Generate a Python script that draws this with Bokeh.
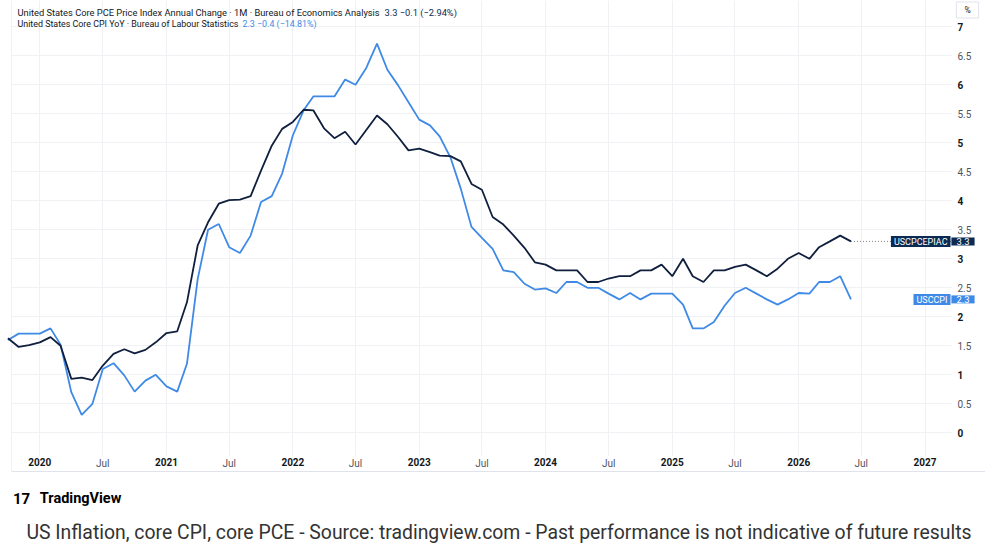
import datetime as dt
import pandas as pd
from bokeh.plotting import figure
from bokeh.models import (Range1d, FixedTicker, Label, ColumnDataSource,
                          DatetimeAxis, LinearAxis)
from bokeh.embed import file_html
from bokeh.resources import INLINE

# ---- data ----
start_month = "2019-10-01"
pce = [1.63, 1.48, 1.51,
       1.56, 1.65, 1.50, 0.93, 0.95, 0.91, 1.16, 1.36, 1.44, 1.37, 1.43, 1.56,
       1.72, 1.75, 2.25, 3.23, 3.63, 3.95, 4.01, 4.02, 4.08, 4.52, 4.95, 5.24,
       5.36, 5.57, 5.56, 5.25, 5.08, 5.19, 4.97, 5.22, 5.47, 5.32, 5.10, 4.87,
       4.90, 4.84, 4.78, 4.77, 4.68, 4.29, 4.19, 3.72, 3.59, 3.40, 3.19, 2.94,
       2.90, 2.80, 2.80, 2.80, 2.60, 2.60, 2.66, 2.70, 2.70, 2.80, 2.80, 2.90,
       2.70, 3.00, 2.70, 2.60, 2.80, 2.80, 2.86, 2.90, 2.80, 2.70, 2.83, 3.00,
       3.10, 3.00, 3.20, 3.30, 3.40, 3.30]
cpi = [1.60, 1.71, 1.71,
       1.71, 1.80, 1.52, 0.70, 0.31, 0.50, 1.10, 1.20, 0.99, 0.71, 0.90, 1.00,
       0.80, 0.71, 1.19, 2.65, 3.50, 3.60, 3.20, 3.10, 3.40, 3.98, 4.08, 4.47,
       5.13, 5.56, 5.80, 5.80, 5.80, 6.09, 6.00, 6.29, 6.71, 6.26, 5.99, 5.70,
       5.40, 5.30, 5.11, 4.75, 4.21, 3.55, 3.36, 3.17, 2.80, 2.77, 2.57, 2.47,
       2.49, 2.41, 2.60, 2.60, 2.50, 2.50, 2.40, 2.30, 2.41, 2.30, 2.40, 2.40,
       2.40, 2.21, 1.80, 1.80, 1.91, 2.19, 2.41, 2.50, 2.40, 2.30, 2.21, 2.30,
       2.41, 2.40, 2.60, 2.60, 2.70, 2.30]
tick_years = [2020, 2021, 2022, 2023, 2024, 2025, 2026, 2027]
y_major = [0, 1, 2, 3, 4, 5, 6, 7]
y_half = [0.5, 1.5, 2.5, 3.5, 4.5, 5.5, 6.5]
pce_name = "United States Core PCE Price Index Annual Change · 1M · Bureau of Economics Analysis"
cpi_name = "United States Core CPI YoY · Bureau of Labour Statistics"
pce_code = "USCPCEPIAC"
cpi_code = "USCCPI"
brand = "TradingView"
caption = "US Inflation, core CPI, core PCE - Source: tradingview.com - Past performance is not indicative of future results"

# ---- styles ----
PCE_COL = "#0f1f3d"
PCE_BOX = "#0c2a52"
CPI_COL = "#3f8ae6"
GRID = "#f0f1f4"
TXT = "#131722"
TXT2 = "#50535e"
FONT = "Roboto"

W, H = 985, 546
# pixel calibration of the pane (layout only)
BASE = dt.datetime(2020, 1, 1)
PX_2020, PX_PER_DAY = 39.3, 0.3462
PY_ZERO, PY_PER_UNIT = 432.3, 58.0
epoch = dt.datetime(1970, 1, 1)

def ms(d):
    return (d - epoch).total_seconds() * 1000.0

def xdata(px):
    return BASE + dt.timedelta(days=(px - PX_2020) / PX_PER_DAY)

def ydata(py):
    return (PY_ZERO - py) / PY_PER_UNIT

dates = pd.date_range(start_month, periods=len(pce), freq="MS")
src = ColumnDataSource(dict(date=dates, pce=pce, cpi=cpi))

p = figure(width=W, height=H, x_axis_type="datetime", y_axis_location="right",
           x_range=Range1d(xdata(0), xdata(W)), y_range=Range1d(ydata(H), ydata(0)),
           output_backend="svg", toolbar_location=None, min_border=0)
p.outline_line_color = None

PANE_RIGHT = ms(xdata(951))
PANE_LEFT = ms(xdata(11))
PANE_BOTTOM = ydata(455)

year_ticks = [ms(dt.datetime(y, 1, 1)) for y in tick_years]
jul_ticks = [ms(dt.datetime(y, 7, 1)) for y in tick_years]

def style_axis(ax, bold, color, standoff):
    ax.axis_line_color = None
    ax.major_tick_line_color = None
    ax.minor_tick_line_color = None
    ax.major_tick_out = 0
    ax.major_tick_in = 0
    ax.minor_tick_out = 0
    ax.minor_tick_in = 0
    ax.major_label_text_font = FONT
    ax.major_label_text_font_size = "10px"
    ax.major_label_text_color = color
    ax.major_label_text_font_style = "bold" if bold else "normal"
    ax.major_label_standoff = standoff

xa = p.xaxis[0]
xa.ticker = FixedTicker(ticks=year_ticks)
xa.major_label_overrides = {t: str(y) for t, y in zip(year_ticks, tick_years)}
xa.fixed_location = PANE_BOTTOM
style_axis(xa, True, TXT, 2)

xa2 = DatetimeAxis(ticker=FixedTicker(ticks=jul_ticks),
                   major_label_overrides={t: "Jul" for t in jul_ticks},
                   fixed_location=PANE_BOTTOM)
style_axis(xa2, False, TXT2, 2)
p.add_layout(xa2, "below")

ya = p.yaxis[0]
ya.ticker = FixedTicker(ticks=y_major)
ya.fixed_location = PANE_RIGHT
style_axis(ya, True, TXT, 6)

ya2 = LinearAxis(ticker=FixedTicker(ticks=y_half), fixed_location=PANE_RIGHT)
style_axis(ya2, False, TXT2, 6)
p.add_layout(ya2, "right")

p.xgrid.ticker = FixedTicker(ticks=sorted(year_ticks + jul_ticks))
p.ygrid.ticker = FixedTicker(ticks=sorted(y_major + y_half))
p.xgrid.grid_line_color = GRID
p.ygrid.grid_line_color = GRID
p.xgrid.cross_bounds = (PANE_BOTTOM, ydata(0))
p.ygrid.cross_bounds = (PANE_LEFT, PANE_RIGHT)

# faint pane borders
p.segment(x0=[xdata(11)], y0=[ydata(471)], x1=[xdata(W)], y1=[ydata(471)],
          line_color="#e0e3eb", line_width=1)
p.segment(x0=[xdata(11)], y0=[ydata(0)], x1=[xdata(11)], y1=[ydata(471)],
          line_color=GRID, line_width=1)

p.line("date", "cpi", source=src, line_color=CPI_COL, line_width=1.8)
p.line("date", "pce", source=src, line_color=PCE_COL, line_width=1.8)

# dotted last-value line for the PCE series
p.segment(x0=[dates[-1]], y0=[pce[-1]], x1=[xdata(951)], y1=[pce[-1]],
          line_color="#787b86", line_width=1, line_dash="1 2")

# price-scale badges
def badge(x, y, text, bg, align, pad_h, size):
    p.add_layout(Label(x=x, y=y, x_units="screen", y_units="data", text=text,
                       text_align=align, text_baseline="middle", text_color="white",
                       text_font=FONT, text_font_size=size,
                       background_fill_color=bg,
                       padding=dict(left=pad_h, right=pad_h, top=1, bottom=0)))

badge(950, pce[-1], pce_code, PCE_BOX, "right", 3, "9px")
badge(962.5, pce[-1], f"{pce[-1]:.1f}", PCE_BOX, "center", 5, "9.5px")
badge(950, cpi[-1], cpi_code, CPI_COL, "right", 3, "9px")
badge(962.5, cpi[-1], f"{cpi[-1]:.1f}", CPI_COL, "center", 5, "9.5px")

def lab(x, py, text, color, size="9px", style="normal", align="left", baseline="alphabetic", **kw):
    p.add_layout(Label(x=x, y=H - py, x_units="screen", y_units="screen", text=text,
                       text_align=align, text_baseline=baseline, text_color=color,
                       text_font=FONT, text_font_size=size, text_font_style=style, **kw))

pce_chg = pce[-1] - pce[-2]
cpi_chg = cpi[-1] - cpi[-2]
lab(17, 12.3, pce_name, TXT, size="9.3px")
lab(384, 12.3, f"{pce[-1]:.1f}  \u2212{abs(pce_chg):.1f} (\u2212{abs(pce_chg)/pce[-2]*100:.2f}%)", PCE_BOX, size="9.3px")
lab(17, 23.3, cpi_name, TXT, size="8.9px")
lab(242, 23.3, f"{cpi[-1]:.1f}  \u2212{abs(cpi_chg):.1f} (\u2212{abs(cpi_chg)/cpi[-2]*100:.2f}%)", CPI_COL, size="8.9px")
lab(967, 9.5, "%", TXT, size="8.5px", align="center", baseline="middle",
    background_fill_color="white", border_line_color="#e0e3eb",
    padding=dict(left=8, right=8, top=3, bottom=3))

# branding and caption
lab(12.5, 497.7, "17", "#000000", size="15px", style="bold")
lab(39.3, 497.7, brand, "#000000", size="14.5px", style="bold")
lab(498.5, 532.3, caption, "#333333", size="19.4px", align="center")

open("out.html", "w").write(file_html(p, INLINE))
